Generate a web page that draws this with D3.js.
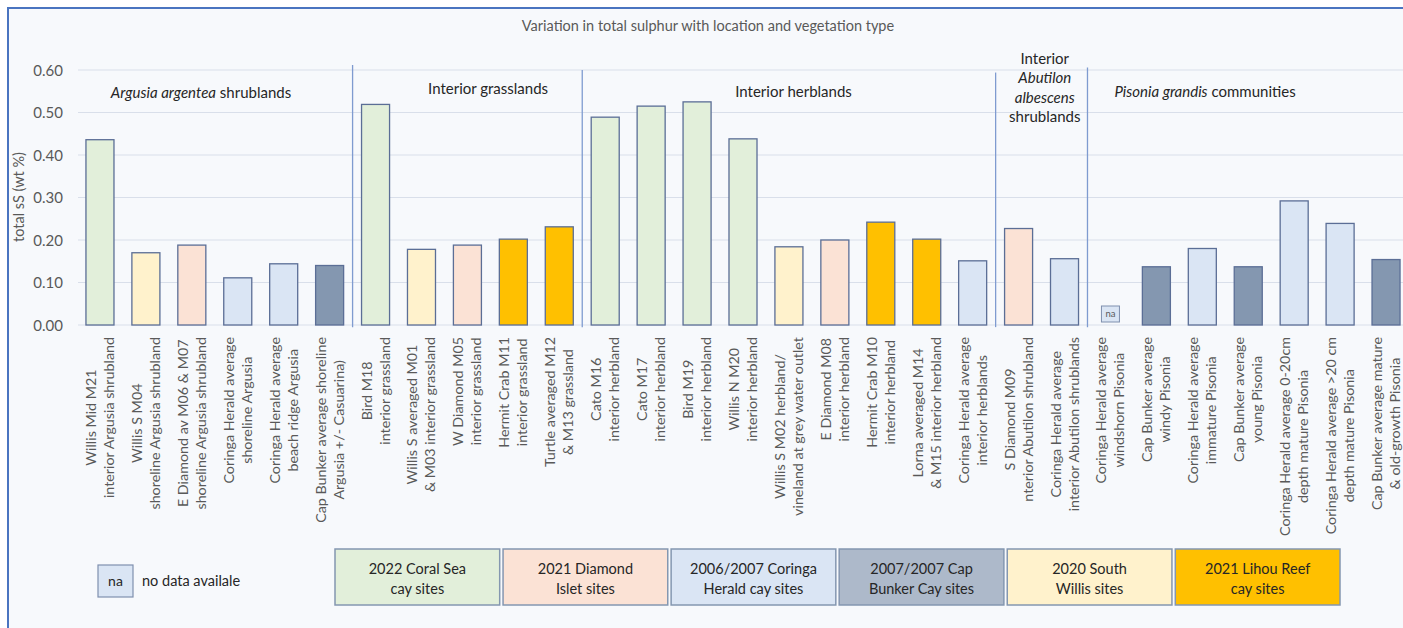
<!DOCTYPE html>
<html><head><meta charset="utf-8">
<script src="https://cdn.jsdelivr.net/npm/d3@7"></script>
<style>
html,body{margin:0;padding:0;background:#fff;}
svg{display:block;font-family:Lato,"Open Sans",sans-serif;}
</style></head>
<body>
<svg id="chart" width="1403" height="628"></svg>
<script>
// ---------- DATA ----------
const categories = [
  ["Willis Mid M21","interior Argusia shrubland"],
  ["Willis S M04","shoreline Argusia shrubland"],
  ["E Diamond av M06 & M07","shoreline Argusia shrubland"],
  ["Coringa Herald average","shoreline Argusia"],
  ["Coringa Herald average","beach ridge Argusia"],
  ["Cap Bunker average shoreline","Argusia +/- Casuarina)"],
  ["Bird M18","interior grassland"],
  ["Willis S averaged M01","& M03 interior grassland"],
  ["W Diamond M05","interior grassland"],
  ["Hermit Crab M11","interior grassland"],
  ["Turtle averaged M12","& M13 grassland"],
  ["Cato M16","interior herbland"],
  ["Cato M17","interior herbland"],
  ["Bird M19","interior herbland"],
  ["Willis N M20","interior herbland"],
  ["Willis S M02 herbland/","vineland at grey water outlet"],
  ["E Diamond M08","interior herbland"],
  ["Hermit Crab M10","interior herbland"],
  ["Lorna averaged M14","& M15 interior herbland"],
  ["Coringa Herald average","interior herblands"],
  ["S Diamond M09","nterior Abutilon shrubland"],
  ["Coringa Herald average","interior Abutilon shrublands"],
  ["Coringa Herald average","windshorn Pisonia"],
  ["Cap Bunker average","windy Pisonia"],
  ["Coringa Herald average","immature Pisonia"],
  ["Cap Bunker average","young Pisonia"],
  ["Coringa Herald average 0-20cm","depth mature Pisonia"],
  ["Coringa Herald average >20 cm","depth mature Pisonia"],
  ["Cap Bunker average mature","& old-growth Pisonia"]
];
const values = [0.436,0.170,0.188,0.111,0.144,0.140,
  0.519,0.178,0.188,0.202,0.231,
  0.489,0.515,0.525,0.438,0.184,0.200,0.242,0.202,0.151,
  0.227,0.156,
  null,0.137,0.180,0.137,0.292,0.239,0.154];
const siteGroup = ["coral","willis","diamond","coringa","coringa","capbunker",
  "coral","willis","diamond","lihou","lihou",
  "coral","coral","coral","coral","willis","diamond","lihou","lihou","coringa",
  "diamond","coringa",
  "coringa","capbunker","coringa","capbunker","coringa","coringa","capbunker"];
const yTicks = [0,0.1,0.2,0.3,0.4,0.5,0.6];
const yTickLabels = ["0.00","0.10","0.20","0.30","0.40","0.50","0.60"];
const legendKeys = ["coral","diamond","coringa","capbunker","willis","lihou"];
const legendLabels = [["2022 Coral Sea","cay sites"],["2021 Diamond","Islet sites"],["2006/2007 Coringa","Herald cay sites"],["2007/2007 Cap","Bunker Cay sites"],["2020 South","Willis sites"],["2021 Lihou Reef","cay sites"]];
// vegetation group headings; "at" = category position (index) the heading is centred on
const vegGroups = [
  {at:2.2,top:0.533,lines:[[["Argusia argentea",true],[" shrublands",false]]]},
  {at:8.45,top:0.543,lines:[[["Interior grasslands",false]]]},
  {at:15.1,top:0.536,lines:[[["Interior herblands",false]]]},
  {at:20.57,top:0.615,lines:[[["Interior",false]],[["Abutilon",true]],[["albescens",true]],[["shrublands",false]]]},
  {at:24.06,top:0.536,lines:[[["Pisonia grandis",true],[" communities",false]]]}
];
const separatorAfter = [5,10,19,21];
const separatorTop = [0.612,0.600,0.594,0.606];
const title = "Variation in total sulphur with location and vegetation type";
const yTitle = "total sS (wt %)";

// ---------- STYLE ----------
const fillColor = {coral:"#e2efda",diamond:"#fbe2d5",coringa:"#dae5f4",capbunker:"#8497b0",willis:"#fff2cc",lihou:"#ffc000"};
const legendFill = {coral:"#e2efda",diamond:"#fbe2d5",coringa:"#dae5f4",capbunker:"#adb9ca",willis:"#fff2cc",lihou:"#ffc000"};
const textGrey = "#595959";

const svg = d3.select("#chart");
svg.append("rect").attr("x",0).attr("y",0).attr("width",1403).attr("height",628).attr("fill","#fff");
svg.append("rect").attr("x",8).attr("y",8).attr("width",1410).attr("height",640)
  .attr("fill","#f7f9fc").attr("stroke","#4a74c0").attr("stroke-width",2);

const x = d3.scaleBand().domain(d3.range(categories.length)).range([77,1409]).paddingInner(0.39).paddingOuter(0.195);
const y = d3.scaleLinear().domain([0,0.6]).range([325,70]);
const xc = i => x(0) + x.bandwidth()/2 + i*x.step();

// gridlines
svg.append("g").selectAll("line").data(yTicks).join("line")
  .attr("x1",78).attr("x2",1403).attr("y1",d=>y(d)).attr("y2",d=>y(d))
  .attr("stroke","#d9dfea").attr("stroke-width",1.2);

// y axis labels
const yAxis = d3.axisLeft(y).tickValues(yTicks).tickFormat((d,i)=>yTickLabels[i]).tickSize(0).tickPadding(0);
const ga = svg.append("g").attr("transform","translate(63,0)").call(yAxis);
ga.select(".domain").remove();
ga.selectAll("text").attr("fill",textGrey).style("font-size","15px").style("font-family","Lato").attr("dy","0.35em");

svg.append("text").attr("transform","translate(24,197) rotate(-90)").attr("text-anchor","middle")
  .attr("fill",textGrey).style("font-size","14.5px").text(yTitle);

// title
svg.append("text").attr("x",708).attr("y",31).attr("text-anchor","middle").attr("fill",textGrey)
  .style("font-size","14.5px").text(title);

// separators
svg.append("g").selectAll("line").data(separatorAfter).join("line")
  .attr("x1",d=>(x(d)+x.bandwidth()+x(d+1))/2).attr("x2",d=>(x(d)+x.bandwidth()+x(d+1))/2)
  .attr("y1",(d,i)=>y(separatorTop[i])).attr("y2",y(-0.005))
  .attr("stroke","#7f9bd0").attr("stroke-width",1.3);

// bars
const barData = values.map((v,i)=>({i,v,g:siteGroup[i]})).filter(d=>d.v!==null);
svg.append("g").selectAll("rect").data(barData).join("rect")
  .attr("x",d=>x(d.i)).attr("width",x.bandwidth())
  .attr("y",d=>y(d.v)).attr("height",d=>y(0)-y(d.v))
  .attr("fill",d=>fillColor[d.g]).attr("stroke","#5b6e96").attr("stroke-width",1.3);

// na markers
const naData = values.map((v,i)=>({i,v})).filter(d=>d.v===null);
const naG = svg.append("g").selectAll("g").data(naData).join("g")
  .attr("transform",d=>`translate(${x(d.i)+x.bandwidth()/2},314)`);
naG.append("rect").attr("x",-9).attr("y",-8).attr("width",18).attr("height",16)
  .attr("fill","#dae5f4").attr("stroke","#7f8fae").attr("stroke-width",1);
naG.append("text").attr("text-anchor","middle").attr("dy","0.35em").attr("fill",textGrey)
  .style("font-size","9.5px").text("na");

// x labels (rotated, two lines, centred)
const lineGap = 18;
const labelG = svg.append("g").selectAll("g").data(categories).join("g")
  .attr("transform",(d,i)=>`translate(${x(i)+x.bandwidth()/2},337) rotate(-90)`);
labelG.each(function(lines){
  const g = d3.select(this);
  const tmp = lines.map((t,k)=>g.append("text").attr("text-anchor","middle").attr("fill",textGrey)
    .style("font-size","14.3px").attr("y",(k-(lines.length-1)/2)*lineGap).attr("dy","0.35em").text(t));
  const maxLen = d3.max(tmp,t=>t.node().getComputedTextLength());
  tmp.forEach(t=>t.attr("x",-maxLen/2));
});

// vegetation group labels
vegGroups.forEach(gr=>{
  const cx = xc(gr.at);
  const y0 = y(gr.top);
  gr.lines.forEach((ln,k)=>{
    const t = svg.append("text").attr("x",cx).attr("y",y0+k*19.5).attr("text-anchor","middle")
      .attr("fill","#262626").style("font-size","15px");
    ln.forEach(seg=>t.append("tspan").style("font-style",seg[1]?"italic":"normal").text(seg[0]));
  });
});

// legend na
const lg = svg.append("g");
lg.append("rect").attr("x",98).attr("y",565).attr("width",35).attr("height",32)
  .attr("fill","#dae5f4").attr("stroke","#7f8fae").attr("stroke-width",1.2);
lg.append("text").attr("x",115.5).attr("y",581).attr("dy","0.35em").attr("text-anchor","middle")
  .attr("fill","#262626").style("font-size","14px").text("na");
lg.append("text").attr("x",142).attr("y",581).attr("dy","0.35em")
  .attr("fill","#262626").style("font-size","14.5px").text("no data availale");

const lx = d3.scaleBand().domain(legendKeys).range([335,1340]).paddingInner(0.02);
const lgi = lg.selectAll("g.item").data(legendKeys).join("g").attr("class","item")
  .attr("transform",d=>`translate(${lx(d)},549)`);
lgi.append("rect").attr("width",lx.bandwidth()).attr("height",56)
  .attr("fill",d=>legendFill[d]).attr("stroke","#8497b0").attr("stroke-width",1.5);
lgi.each(function(d,i){
  const g = d3.select(this);
  legendLabels[i].forEach((t,k)=>g.append("text").attr("x",lx.bandwidth()/2).attr("y",20+k*20)
    .attr("dy","0.35em").attr("text-anchor","middle").attr("fill","#262626").style("font-size","14.5px").text(t));
});
</script>
</body></html>
